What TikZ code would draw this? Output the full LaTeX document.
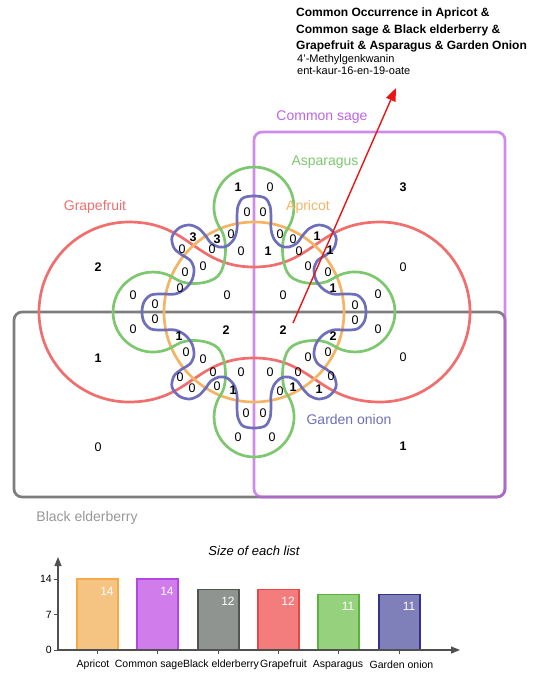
\documentclass[tikz,border=0pt]{standalone}
\usepackage{fontspec}
\setmainfont{Liberation Sans}
\usetikzlibrary{arrows.meta}
\definecolor{csage}{RGB}{190,100,230}
\definecolor{belder}{RGB}{125,125,125}
\definecolor{grape}{RGB}{240,110,110}
\definecolor{apri}{RGB}{245,180,100}
\definecolor{aspa}{RGB}{125,200,110}
\definecolor{onion}{RGB}{110,110,185}
\definecolor{arrowred}{RGB}{235,20,20}
\definecolor{axisgrey}{RGB}{80,80,80}
\definecolor{apf}{RGB}{245,195,130}\definecolor{apd}{RGB}{245,170,70}
\definecolor{csf}{RGB}{208,125,235}\definecolor{csd}{RGB}{180,70,230}
\definecolor{bef}{RGB}{143,148,145}\definecolor{bed}{RGB}{80,85,80}
\definecolor{grf}{RGB}{243,125,125}\definecolor{grd}{RGB}{235,70,70}
\definecolor{asf}{RGB}{150,210,125}\definecolor{asd}{RGB}{90,180,60}
\definecolor{onf}{RGB}{127,127,185}\definecolor{ond}{RGB}{50,50,140}
\begin{document}
\begin{tikzpicture}[x=1pt,y=-1pt,
  vline/.style={line width=2.7pt},
  num/.style={font=\fontsize{12.5}{14}\selectfont, inner sep=0pt, text=black},
  bnum/.style={font=\fontsize{12.5}{14}\selectfont\bfseries, inner sep=0pt, text=black},
  setlab/.style={font=\fontsize{14}{16}\selectfont, inner sep=0pt},
  titlel/.style={font=\fontsize{12}{14}\selectfont\bfseries, anchor=base west, inner sep=0pt},
  cmpd/.style={font=\fontsize{11}{13}\selectfont, anchor=base west, inner sep=0pt},
  bar/.style={line width=1.2pt},
  barval/.style={font=\fontsize{12}{14}\selectfont, text=white, inner sep=0pt},
  barlab/.style={font=\fontsize{10.5}{12}\selectfont, inner sep=0pt},
  axisline/.style={line width=1.2pt, axisgrey, -{Triangle[length=9pt,width=7pt]}},
  arrowline/.style={line width=1.4pt, arrowred, -{Triangle[length=13pt,width=10pt]}}
]
\useasboundingbox (0,0) rectangle (535,673);
% rectangles
\draw[vline, belder, rounded corners=8pt] (14,312) rectangle (505,497);
\draw[vline, csage, opacity=0.75, rounded corners=8pt] (254,132) rectangle (505,497);
% Grapefruit
\draw[vline, grape] (129,222) arc[start angle=270,end angle=90,radius=90]
  .. controls (190,402) and (195,358) .. (254,358)
  .. controls (313,358) and (318,402) .. (380,402)
  arc[start angle=90,end angle=-90,radius=90]
  .. controls (318,222) and (313,267) .. (254,267)
  .. controls (195,267) and (190,222) .. (129,222) -- cycle;
% Apricot
\draw[vline, apri] (254,312) circle[radius=90];
% Asparagus
\begin{scope}[shift={(254,312)}]
\draw[vline, aspa] (-33.2,-82.6) arc[start angle=146,end angle=394,radius=40]
 .. controls (25.4,-71) and (28,-44) .. (36,-36) .. controls (44,-28) and (67,-25.4) .. (78.6,-33.2)
 arc[start angle=236,end angle=484,radius=40]
 .. controls (67,25.4) and (44,28) .. (36,36) .. controls (28,44) and (25.4,71) .. (33.2,82.6)
 arc[start angle=326,end angle=574,radius=40]
 .. controls (-25.4,71) and (-28,44) .. (-36,36) .. controls (-44,28) and (-67,25.4) .. (-78.6,33.2)
 arc[start angle=56,end angle=304,radius=40]
 .. controls (-67,-25.4) and (-44,-28) .. (-36,-36) .. controls (-28,-44) and (-25.4,-71) .. (-33.2,-82.6) -- cycle;
\end{scope}
% Garden onion
\draw[vline, onion] plot[smooth cycle, tension=0.55] coordinates {
 (254,196) (243,198) (238,206) (237,217) (237,229) (234,239) (227,246) (219,247) (211,243) (205,235) (198,228) (189,225) (179,228) (172,237) (174,248) (182,255) (190,260) (194,269) (192,280) (185,289) (175,294) (163,294) (151,295) (144,302) (142,312)
 (144,322) (151,329) (163,330) (175,330) (185,335) (192,344) (194,355) (190,364) (182,369) (174,376) (172,387) (179,396) (189,399) (198,396) (205,389) (211,381) (219,377) (227,378) (234,385) (237,395) (237,407) (238,418) (243,426) (254,428)
 (265,426) (270,418) (271,407) (271,395) (274,385) (281,378) (289,377) (297,381) (303,389) (310,396) (319,399) (329,396) (336,387) (334,376) (326,369) (318,364) (314,355) (316,344) (323,335) (333,330) (345,330) (357,329) (364,322) (366,312)
 (364,302) (357,295) (345,294) (333,294) (323,289) (316,280) (314,269) (318,260) (326,255) (334,248) (336,237) (329,228) (319,225) (310,228) (303,235) (297,243) (289,247) (281,246) (274,239) (271,229) (271,217) (270,206) (265,198)};
% set labels
\node[setlab, text=csage] (lsage) at (322,117) {Common sage};
\node[setlab, text=aspa] (lasp) at (325,162) {Asparagus};
\node[setlab, text=apri] (lapr) at (308,207) {Apricot};
\node[setlab, text=grape] (lgrape) at (95,207) {Grapefruit};
\node[setlab, text=onion] (lonion) at (349,419) {Garden onion};
\node[setlab, text=belder!80] (lbeld) at (87,518) {Black elderberry};
% numbers
\foreach \x/\y [count=\i] in {270/187, 247/212, 263/212, 231/234, 280/234, 293/239, 182/249, 212/249, 241/251, 299/251, 203/266, 308/266, 185/272, 328/272, 133/295, 180/288, 378/294, 227/295, 283/295, 155/304, 355/305, 155/319, 355/320, 133/329, 378/329, 186/352, 328/352, 203/359, 308/357, 180/377, 213/372, 241/372, 270/372, 298/372, 331/376, 192/388, 217/386, 280/391, 246/413, 263/413, 238/437, 272/437, 403/267, 403/357, 98/447}
  \node[num] (z\i) at (\x,\y) {0};
\foreach \x/\y/\v [count=\i] in {238/187/1, 193/237/3, 217/239/3, 317/236/1, 268/251/1, 330/250/1, 333/288/1, 226/330/2, 283/330/2, 179/336/1, 333/336/2, 233/390/1, 293/387/1, 319/389/1, 403/187/3, 98/267/2, 98/358/1, 403/446/1}
  \node[bnum] (b\i) at (\x,\y) {\v};
% title
\node[titlel] (t1) at (296,16) {Common Occurrence in Apricot \&};
\node[titlel] (t2) at (296,33) {Common sage \& Black elderberry \&};
\node[titlel] (t3) at (296,49.5) {Grapefruit \& Asparagus \& Garden Onion};
\node[cmpd] (c1) at (297,62.3) {4'-Methylgenkwanin};
\node[cmpd] (c2) at (297,74.6) {ent-kaur-16-en-19-oate};
\coordinate (arrowstart) at (293,323);
\coordinate (arrowtip) at (396,88);
\draw[arrowline] (arrowstart) -- (arrowtip);
% bar chart
\node[font=\fontsize{13}{15}\selectfont\itshape, inner sep=0pt] (ctitle) at (254,551) {Size of each list};
\coordinate (origin) at (58,650);
\coordinate (yend) at (58,557);
\coordinate (xend) at (460,650);
\foreach \xl/\v/\fc/\dc [count=\i] in {77/14/apf/apd, 137/14/csf/csd, 198/12/bef/bed, 258/12/grf/grd, 318/11/asf/asd, 379/11/onf/ond}{
  \draw[bar, fill=\fc, draw=\dc] (\xl,{650-\v*5.07}) rectangle ({\xl+41},650);
  \node[barval] (bv\i) at ({\xl+30},{650-\v*5.07+12}) {\v};
  \draw[axisgrey, line width=0.8pt] ({\xl+20.5},650) -- ({\xl+20.5},654);
}
\draw[axisline] (origin) -- (yend);
\draw[axisline] (origin) -- (xend);
\foreach \yy/\t [count=\i] in {579/14, 614.5/7, 650/0}{
  \draw[axisgrey, line width=0.8pt] (54,\yy) -- (58,\yy);
  \node[barlab, anchor=east] (tk\i) at (52,\yy) {\t};
}
\node[barlab] (bl1) at (93,665) {Apricot};
\node[barlab] (bl2) at (149,665) {Common sage};
\node[barlab] (bl3) at (221,665) {Black elderberry};
\node[barlab] (bl4) at (283.5,665) {Grapefruit};
\node[barlab] (bl5) at (338,665) {Asparagus};
\node[barlab] (bl6) at (401.5,665) {Garden onion};
\end{tikzpicture}
\end{document}
